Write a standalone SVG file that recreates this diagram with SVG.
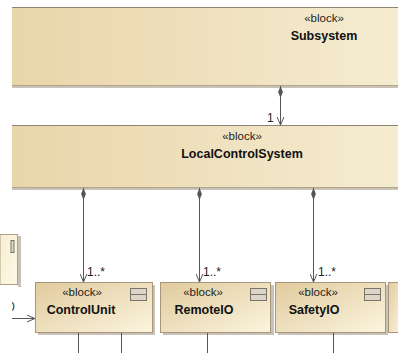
<svg xmlns="http://www.w3.org/2000/svg" width="398" height="353" viewBox="0 0 398 353">
  <style>
    .stereo { font-family: "Liberation Sans", Arial, sans-serif; font-size: 11.5px; fill: #222; text-anchor: middle; }
    .name { font-family: "Liberation Sans", Arial, sans-serif; font-size: 12.5px; font-weight: bold; fill: #111; text-anchor: middle; }
    .mult { font-family: "Liberation Sans", Arial, sans-serif; font-size: 12px; fill: #222; }
    .edge { stroke: #555; stroke-width: 1; fill: none; }
    .wide { fill: url(#wideFill); }
    .box { fill: url(#boxFill); stroke: #a8967a; stroke-width: 1; }
    .shadow { fill: #c9c2b8; }
    .icon { fill: #ddd6c8; stroke: #7a7468; stroke-width: 1; }
  </style>
  <defs>
    <linearGradient id="wideFill" x1="0" y1="0" x2="1" y2="0">
      <stop offset="0" stop-color="#e9d5aa"/>
      <stop offset="1" stop-color="#f5ecd1"/>
    </linearGradient>
    <linearGradient id="boxFill" x1="0" y1="0" x2="1" y2="1">
      <stop offset="0" stop-color="#e1cb9e"/>
      <stop offset="1" stop-color="#fbf4de"/>
    </linearGradient>
    <linearGradient id="paleFill" x1="0" y1="0" x2="1" y2="1">
      <stop offset="0" stop-color="#f7eed2"/>
      <stop offset="1" stop-color="#fdf8e6"/>
    </linearGradient>
    <!-- composite-aggregation diamond, drawn along the path direction -->
    <marker id="diamond" viewBox="0 0 12 6" refX="0" refY="3" markerWidth="12" markerHeight="6" markerUnits="userSpaceOnUse" orient="auto">
      <path d="M0 3 L6 0.6 L12 3 L6 5.4 Z" fill="#555"/>
    </marker>
    <marker id="open" viewBox="0 0 8 8" refX="8" refY="4" markerWidth="8" markerHeight="8" markerUnits="userSpaceOnUse" orient="auto">
      <path d="M0 0.6 L8 4 L0 7.4" fill="none" stroke="#555" stroke-width="1"/>
    </marker>
    <clipPath id="leftCut">
      <rect x="12" y="295" width="30" height="25"/>
    </clipPath>
  </defs>

  <!-- Subsystem -->
  <g id="subsystem">
    <rect x="12" y="86" width="386" height="2" class="shadow"/>
    <rect x="12" y="7" width="386" height="79" class="wide"/>
    <line x1="12" y1="7.5" x2="398" y2="7.5" stroke="#8f8373"/>
    <line x1="12" y1="85.5" x2="398" y2="85.5" stroke="#b3a48a"/>
    <text x="324" y="22" class="stereo">«block»</text>
    <text x="324" y="39.5" class="name">Subsystem</text>
  </g>

  <!-- LocalControlSystem -->
  <g id="localControlSystem">
    <rect x="12" y="188" width="386" height="2" class="shadow"/>
    <rect x="12" y="125" width="386" height="63" class="wide"/>
    <line x1="12" y1="125.5" x2="398" y2="125.5" stroke="#8f8373"/>
    <line x1="12" y1="187.5" x2="398" y2="187.5" stroke="#b3a48a"/>
    <text x="242" y="140" class="stereo">«block»</text>
    <text x="242" y="157.5" class="name">LocalControlSystem</text>
  </g>

  <!-- partially visible block on the left -->
  <g id="leftBlock">
    <rect x="18" y="236" width="3" height="51" class="shadow"/>
    <rect x="0" y="234.5" width="17.5" height="50" fill="url(#paleFill)" stroke="#b0a184"/>
    <rect x="11" y="240.5" width="3" height="12" class="icon"/>
  </g>

  <!-- ControlUnit -->
  <g id="controlUnit">
    <rect x="38" y="285" width="117" height="50" class="shadow"/>
    <rect x="35.5" y="282.5" width="117" height="50" class="box"/>
    <rect x="130.5" y="288.5" width="16" height="12" class="icon"/>
    <line x1="131" y1="294.5" x2="146" y2="294.5" stroke="#7a7468"/>
    <text x="82" y="296" class="stereo">«block»</text>
    <text x="81" y="314" class="name">ControlUnit</text>
  </g>

  <!-- RemoteIO -->
  <g id="remoteIO">
    <rect x="163" y="285" width="111" height="50" class="shadow"/>
    <rect x="160.5" y="282.5" width="110" height="50" class="box"/>
    <rect x="250.5" y="288.5" width="16" height="12" class="icon"/>
    <line x1="251" y1="294.5" x2="266" y2="294.5" stroke="#7a7468"/>
    <text x="203" y="296" class="stereo">«block»</text>
    <text x="204" y="314" class="name">RemoteIO</text>
  </g>

  <!-- SafetyIO -->
  <g id="safetyIO">
    <rect x="278" y="285" width="110" height="50" class="shadow"/>
    <rect x="275.5" y="282.5" width="110" height="50" class="box"/>
    <rect x="364.5" y="288.5" width="16" height="12" class="icon"/>
    <line x1="365" y1="294.5" x2="380" y2="294.5" stroke="#7a7468"/>
    <text x="318" y="296" class="stereo">«block»</text>
    <text x="314" y="314" class="name">SafetyIO</text>
  </g>

  <!-- partially visible block on the right -->
  <g id="rightBlock">
    <rect x="388.5" y="282.5" width="12" height="50" class="box"/>
  </g>

  <!-- connectors -->
  <g id="connectors">
    <line x1="280.5" y1="86" x2="280.5" y2="125" class="edge" marker-start="url(#diamond)" marker-end="url(#open)"/>
    <line x1="83.5" y1="188" x2="83.5" y2="282" class="edge" marker-start="url(#diamond)" marker-end="url(#open)"/>
    <line x1="199.5" y1="188" x2="199.5" y2="282" class="edge" marker-start="url(#diamond)" marker-end="url(#open)"/>
    <line x1="313.5" y1="188" x2="313.5" y2="282" class="edge" marker-start="url(#diamond)" marker-end="url(#open)"/>
    <line x1="12" y1="318.5" x2="35" y2="318.5" class="edge" marker-end="url(#open)"/>
    <line x1="78.5" y1="333" x2="78.5" y2="353" class="edge"/>
    <line x1="121.5" y1="333" x2="121.5" y2="353" class="edge"/>
    <line x1="207.5" y1="333" x2="207.5" y2="353" class="edge"/>
    <line x1="333.5" y1="333" x2="333.5" y2="353" class="edge"/>
    <text x="267" y="122" class="mult">1</text>
    <text x="87" y="276" class="mult">1..*</text>
    <text x="203" y="276" class="mult">1..*</text>
    <text x="318" y="276" class="mult">1..*</text>
    <text x="8" y="311" class="mult" clip-path="url(#leftCut)">0</text>
  </g>
</svg>
